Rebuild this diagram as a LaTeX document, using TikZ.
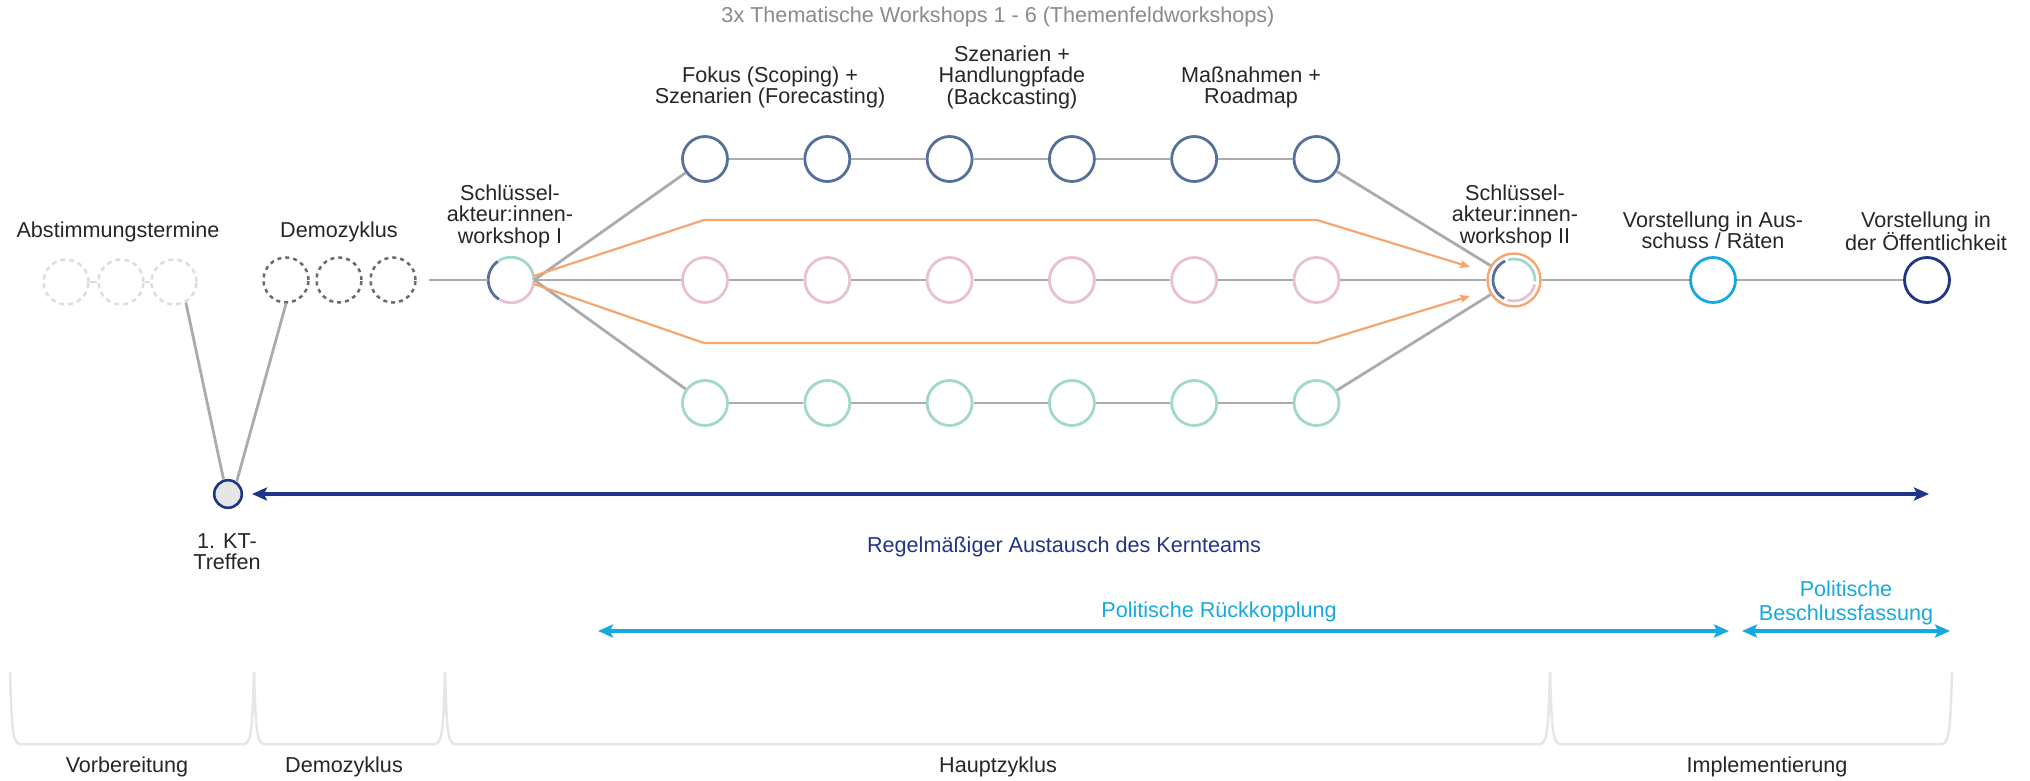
\documentclass[tikz,border=0pt]{standalone}
\usepackage{fontspec}
\setmainfont{Liberation Sans}
\usetikzlibrary{arrows.meta}
\definecolor{txt}{HTML}{262626}
\definecolor{ttl}{HTML}{8A8A8A}
\definecolor{lgray}{HTML}{ABABAB}
\definecolor{slate}{HTML}{57709A}
\definecolor{pinkc}{HTML}{E8C0D2}
\definecolor{tealc}{HTML}{A1D8CD}
\definecolor{orangec}{HTML}{F5A56E}
\definecolor{navyc}{HTML}{20358A}
\definecolor{cyanc}{HTML}{15A9E1}
\definecolor{dashl}{HTML}{DDDDDD}
\definecolor{dashd}{HTML}{6B6B6B}
\definecolor{brkc}{HTML}{E6E6E6}
\definecolor{ktfill}{HTML}{E6E6E6}
\tikzset{
  tipn/.tip={Stealth[length=15pt,width=13pt,inset=3pt]},
  tipo/.tip={Stealth[length=10pt,width=8pt,inset=2pt]}
}
\begin{document}
\begin{tikzpicture}[x=1pt,y=-1pt,
  font=\fontsize{21.6}{21.5}\selectfont,
  wc/.style={circle, inner sep=0pt, minimum size=45pt, line width=2.8pt, fill=white},
  ln/.style={draw=lgray, line width=2.8pt},
  orl/.style={draw=orangec, line width=2.2pt},
  lbl/.style={text=txt, inner sep=0pt, align=center, anchor=north},
  lb/.style={text=txt, inner sep=0pt, anchor=base},
  brk/.style={draw=brkc, line width=2.5pt}
]
\useasboundingbox (0,0) rectangle (2030,781);

% ---------- texts ----------
\node[lb, text=ttl] (title) at (998,23) {3x Thematische Workshops 1 - 6 (Themenfeldworkshops)};
\node[lbl] (tfokus) at (770,66.4) {Fokus (Scoping) +\\Szenarien (Forecasting)};
\node[lbl] (tszen) at (1012,45.4) {Szenarien +\\Handlungpfade\\(Backcasting)};
\node[lbl] (tmass) at (1251,66.4) {Maßnahmen +\\Roadmap};
\node[lb] (tabst) at (118,237) {Abstimmungstermine};
\node[lb] (tdemo) at (339,237) {Demozyklus};
\node[lbl] (tsk1) at (510,184.4) {Schlüssel-\\akteur:innen-\\workshop I};
\node[lbl] (tsk2) at (1515,184.4) {Schlüssel-\\akteur:innen-\\workshop II};
\node[lbl] (tvor1) at (1713,211.4) {Vorstellung in Aus-\\schuss / Räten};
\node[lbl] (tvor2) at (1926,211.4) {Vorstellung in\\der Öffentlichkeit};
\node[lbl] (tkt) at (227,533.4) {1. KT-\\Treffen};
\node[lb, text=navyc] (treg) at (1064,552) {Regelmäßiger Austausch des Kernteams};
\node[lb, text=cyanc] (tpr) at (1219,617) {Politische Rückkopplung};
\node[lbl, text=cyanc] (tpb) at (1846,580.4) {Politische\\[3pt]Beschlussfassung};
\node[lb] (tvb) at (127,772) {Vorbereitung};
\node[lb] (tdz) at (344,772) {Demozyklus};
\node[lb] (thz) at (998,772) {Hauptzyklus};
\node[lb] (tim) at (1767,772) {Implementierung};

% ---------- circles ----------
\node[wc, draw=dashl, dash pattern=on 5pt off 4pt, line width=2.5pt] (ab1) at (66,282) {};
\node[wc, draw=dashl, dash pattern=on 5pt off 4pt, line width=2.5pt] (ab2) at (121,282) {};
\node[wc, draw=dashl, dash pattern=on 5pt off 4pt, line width=2.5pt] (ab3) at (174,282) {};
\node[wc, draw=dashd, dash pattern=on 4pt off 4pt, line width=2.5pt] (dz1) at (286,280) {};
\node[wc, draw=dashd, dash pattern=on 4pt off 4pt, line width=2.5pt] (dz2) at (339,280) {};
\node[wc, draw=dashd, dash pattern=on 4pt off 4pt, line width=2.5pt] (dz3) at (393,280) {};

\node[circle, inner sep=0pt, minimum size=46pt] (s1) at (511,280) {};
\foreach \i/\x in {1/705,2/827.3,3/949.6,4/1071.9,5/1194.2,6/1316.5}{
  \node[wc, draw=slate] (u\i) at (\x,159) {};
  \node[wc, draw=pinkc] (m\i) at (\x,280) {};
  \node[wc, draw=tealc] (b\i) at (\x,403) {};
}
\node[circle, inner sep=0pt, minimum size=53pt, draw=orangec, line width=2.4pt] (s2) at (1514,280) {};
\node[wc, draw=cyanc] (v1) at (1713,280) {};
\node[wc, draw=navyc] (v2) at (1927,280) {};
\node[circle, inner sep=0pt, minimum size=27.6pt, fill=ktfill, draw=navyc, line width=2.6pt] (kt) at (228,494) {};

% split rings
\draw[slate, line width=2.8pt] (s1.center) ++(125:22.8pt) arc[start angle=125, end angle=238, radius=22.8pt];
\draw[tealc, line width=2.8pt] (s1.center) ++(0:22.8pt) arc[start angle=0, end angle=123, radius=22.8pt];
\draw[pinkc, line width=2.8pt] (s1.center) ++(-120:22.8pt) arc[start angle=-120, end angle=-2, radius=22.8pt];
\draw[slate, line width=2.8pt] (s2.center) ++(115:21pt) arc[start angle=115, end angle=242, radius=21pt];
\draw[tealc, line width=2.8pt] (s2.center) ++(-4:21pt) arc[start angle=-4, end angle=106, radius=21pt];
\draw[pinkc, line width=2.8pt] (s2.center) ++(-108:21pt) arc[start angle=-108, end angle=-12, radius=21pt];

% ---------- connectors ----------
\draw[draw=dashl, line width=2.5pt] (ab1) -- (ab2) -- (ab3);
\draw[ln] (ab3.-60) -- (kt.107);
\draw[ln] (dz1.south) -- (kt.55);
\draw[ln, shorten <=12pt] (dz3) -- (s1);
\draw[ln] (s1.east) -- (u1);
\draw[ln] (s1) -- (m1);
\draw[ln] (s1.east) -- (b1);
\draw[ln] (u1) -- (u2) -- (u3) -- (u4) -- (u5) -- (u6);
\draw[ln] (m1) -- (m2) -- (m3) -- (m4) -- (m5) -- (m6);
\draw[ln] (b1) -- (b2) -- (b3) -- (b4) -- (b5) -- (b6);
\draw[ln] (u6) -- (s2);
\draw[ln] (m6) -- (s2);
\draw[ln] (b6) -- (s2);
\draw[ln] (s2) -- (v1);
\draw[ln] (v1) -- (v2);

\coordinate (ou1) at (704,220);
\coordinate (ou2) at (1317,220);
\coordinate (ot1) at (1470,267);
\coordinate (ol1) at (704,343);
\coordinate (ol2) at (1317,343);
\coordinate (ot2) at (1470,296);
\draw[orl, -{tipo}] (s1.10) -- (ou1) -- (ou2) -- (ot1);
\draw[orl, -{tipo}] (s1.-10) -- (ol1) -- (ol2) -- (ot2);

% arrows
\coordinate (na1) at (252,494);
\coordinate (na2) at (1929,494);
\draw[draw=navyc, line width=3.2pt, {tipn}-{tipn}] (na1) -- (na2);
\coordinate (pr1) at (598,631);
\coordinate (pr2) at (1729,631);
\draw[draw=cyanc, line width=3.2pt, {tipn}-{tipn}] (pr1) -- (pr2);
\coordinate (pb1) at (1742,631);
\coordinate (pb2) at (1950,631);
\draw[draw=cyanc, line width=3.2pt, {tipn}-{tipn}] (pb1) -- (pb2);

% brackets
\foreach \a/\b in {10/254, 254/445, 445/1550, 1550/1952}{
  \draw[brk] (\a,672) .. controls (\a+1.5,725) and (\a+2.5,744) .. (\a+10,744) -- (\b-10,744) .. controls (\b-2.5,744) and (\b-1.5,725) .. (\b,672);
}
\end{tikzpicture}
\end{document}
